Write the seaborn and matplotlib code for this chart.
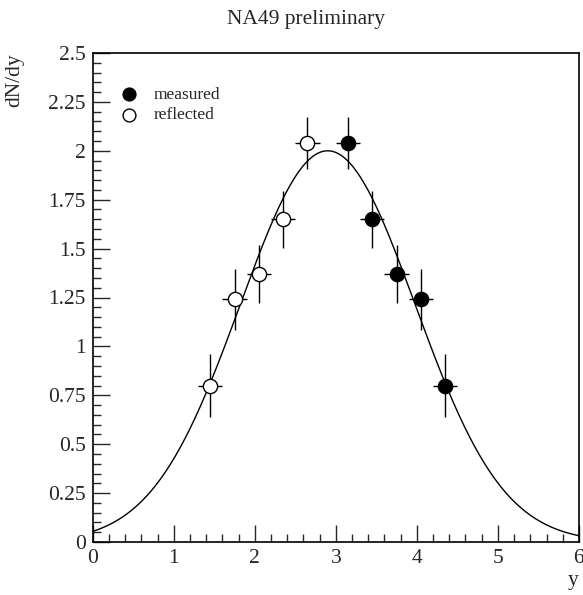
import numpy as np
import pandas as pd
import matplotlib
matplotlib.use("Agg")
import matplotlib.pyplot as plt
import seaborn as sns

# data
y_measured = [3.15, 3.45, 3.75, 4.05, 4.35]
dndy_measured = [2.04, 1.65, 1.37, 1.24, 0.80]
err_measured = [0.135, 0.145, 0.15, 0.157, 0.16]

y_reflected = [1.45, 1.75, 2.05, 2.35, 2.65]
dndy_reflected = [0.80, 1.24, 1.37, 1.65, 2.04]
err_reflected = [0.16, 0.157, 0.15, 0.145, 0.135]

x_halfbin = 0.15

x_ticks = [0, 1, 2, 3, 4, 5, 6]
y_ticks = [0, 0.25, 0.5, 0.75, 1, 1.25, 1.5, 1.75, 2, 2.25, 2.5]
y_ticklabels = ['0', '0.25', '0.5', '0.75', '1', '1.25', '1.5', '1.75', '2', '2.25', '2.5']

# gaussian fit parameters (amplitude, mean, sigma)
fit_amp, fit_mean, fit_sigma = 2.0, 2.9, 1.08

sns.set_style("ticks")
plt.rcParams['font.family'] = ['Liberation Serif', 'DejaVu Serif']

fig = plt.figure(figsize=(5.83, 5.95), dpi=100)
ax = fig.add_axes([0.159, 0.089, 0.834, 0.822])

fit_x = np.linspace(0, 6, 400)
fit = pd.DataFrame({'y': fit_x,
                    'dNdy': fit_amp * np.exp(-(fit_x - fit_mean) ** 2 / (2 * fit_sigma ** 2))})
sns.lineplot(data=fit, x='y', y='dNdy', color='black', lw=1.0, ax=ax, zorder=2)

meas = pd.DataFrame({'y': y_measured, 'dNdy': dndy_measured, 'err': err_measured})
refl = pd.DataFrame({'y': y_reflected, 'dNdy': dndy_reflected, 'err': err_reflected})

for d in (meas, refl):
    ax.errorbar(d['y'], d['dNdy'], yerr=d['err'], xerr=x_halfbin, fmt='none',
                ecolor='black', elinewidth=1.0, capsize=0, zorder=3)

sns.scatterplot(data=meas, x='y', y='dNdy', color='black', edgecolor='black',
                s=105, linewidth=1.0, ax=ax, zorder=4, label='measured')
sns.scatterplot(data=refl, x='y', y='dNdy', color='white', edgecolor='black',
                s=105, linewidth=1.0, ax=ax, zorder=4, label='reflected')

ax.set_xlim(0, 6)
ax.set_ylim(0, 2.5)
ax.set_xticks(x_ticks)
ax.set_xticklabels([str(t) for t in x_ticks])
ax.set_xticks(np.arange(0, 6.01, 0.2), minor=True)
ax.set_yticks(y_ticks)
ax.set_yticklabels(y_ticklabels)
ax.set_yticks(np.arange(0, 2.501, 0.05), minor=True)
ax.tick_params(which='both', direction='in', top=False, right=False, labelsize=15.5, width=1.0)
ax.tick_params(which='major', length=12, pad=5)
ax.tick_params(which='minor', length=6)
for sp in ax.spines.values():
    sp.set_linewidth(1.2)
    sp.set_color('black')

ax.set_xlabel('')
ax.set_ylabel('')
fig.text(0.993, 0.025, 'y', fontsize=15.5, ha='right', va='center')
fig.text(0.026, 0.91, 'dN/dy', fontsize=15.5, rotation=90, ha='center', va='top')
fig.text(0.525, 0.968, 'NA49 preliminary', fontsize=15.5, ha='center', va='center')

ax.legend(loc='upper left', bbox_to_anchor=(0.024, 0.945), frameon=False, fontsize=12.5,
          handletextpad=0.45, labelspacing=0.25, borderaxespad=0, markerscale=0.9)

plt.savefig('out.png', dpi=100)
